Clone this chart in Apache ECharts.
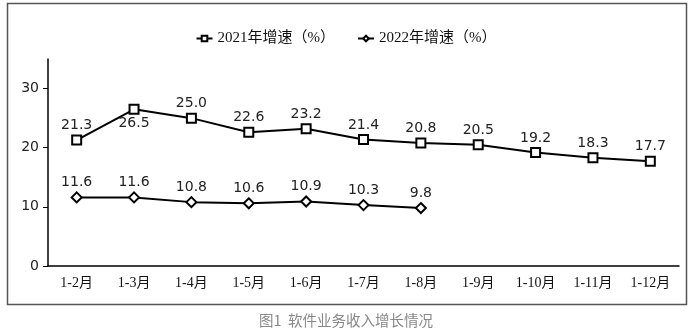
<!DOCTYPE html>
<html><head><meta charset="utf-8">
<script src="https://cdn.jsdelivr.net/npm/echarts@6/dist/echarts.min.js"></script>
<style>html,body{margin:0;padding:0;background:#fff}#c{width:692px;height:331px}</style>
</head><body><div id="c"></div>
<script>
const categories = ['1-2月','1-3月','1-4月','1-5月','1-6月','1-7月','1-8月','1-9月','1-10月','1-11月','1-12月'];
const growth2021 = [21.3, 26.5, 25.0, 22.6, 23.2, 21.4, 20.8, 20.5, 19.2, 18.3, 17.7];
const growth2022 = [11.6, 11.6, 10.8, 10.6, 10.9, 10.3, 9.8];
const yTicks = [0, 10, 20, 30];
const name2021 = '2021年增速（%）';
const name2022 = '2022年增速（%）';
const caption = '图1  软件业务收入增长情况';

const chart = echarts.init(document.getElementById('c'));
const serifFont = "'Liberation Serif','Noto Sans CJK SC',serif";
const labelFont = "'DejaVu Sans',Verdana,sans-serif";
chart.setOption({
  animation: false,
  graphic: [
    {type:'rect', shape:{x:7.5,y:3.5,width:679,height:301}, style:{fill:'none',stroke:'#555',lineWidth:1.5}, z:-1},
    {type:'text', left:'center', top:313, style:{text:caption, font:"14.5px 'Noto Sans CJK SC',sans-serif", fill:'#888'}}
  ],
  legend: {
    top: 26, left: 'center', itemGap: 22, itemWidth: 16, itemHeight: 7,
    textStyle: {fontFamily: serifFont, fontSize: 15, color:'#111'},
    data: [name2021, name2022]
  },
  grid: {left: 48, right: 13, top: 59, bottom: 65},
  xAxis: {
    type:'category', data: categories, boundaryGap: true,
    axisLine:{lineStyle:{color:'#000',width:1.5}},
    axisTick:{show:false},
    axisLabel:{fontFamily: serifFont, fontSize:14, color:'#111', margin:10, interval:0}
  },
  yAxis: {
    type:'value', min:0, max:35, interval:10,
    splitLine:{show:false},
    axisLine:{show:true, lineStyle:{color:'#000',width:1.5}},
    axisTick:{show:true, customValues: yTicks, length:5, lineStyle:{color:'#000'}},
    axisLabel:{customValues: yTicks, fontFamily: labelFont, fontSize:14, color:'#222', margin:9}
  },
  series: [
    {
      name: name2021, type:'line',
      symbol:'rect', symbolSize:9,
      itemStyle:{color:'#fff', borderColor:'#000', borderWidth:2},
      lineStyle:{color:'#000', width:2},
      label:{show:true, position:'top', distance:2, fontFamily: labelFont, fontSize:14, color:'#222',
        formatter: p => p.value.toFixed(1)},
      data: growth2021.map((v,i)=> i===1 ? {value:v, label:{position:'bottom', distance:2}} : v)
    },
    {
      name: name2022, type:'line',
      symbol:'diamond', symbolSize:10,
      itemStyle:{color:'#fff', borderColor:'#000', borderWidth:2},
      lineStyle:{color:'#000', width:2},
      label:{show:true, position:'top', distance:2, fontFamily: labelFont, fontSize:14, color:'#222',
        formatter: p => p.value.toFixed(1)},
      data: growth2022
    }
  ]
});
</script></body></html>
